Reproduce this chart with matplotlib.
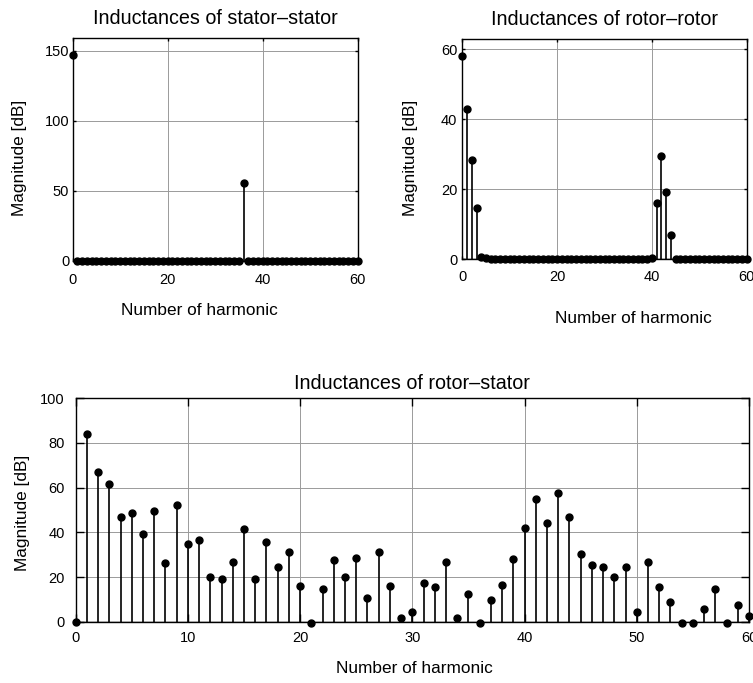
import numpy as np
import matplotlib.pyplot as plt

plt.rcParams['font.family'] = ['Liberation Sans', 'DejaVu Sans']

# harmonic numbers 0..60
harmonics = np.arange(61)

# magnitudes [dB]
stator_stator = [147, 0, 0, 0, 0, 0, 0, 0, 0, 0,
                 0, 0, 0, 0, 0, 0, 0, 0, 0, 0,
                 0, 0, 0, 0, 0, 0, 0, 0, 0, 0,
                 0, 0, 0, 0, 0, 0, 56, 0, 0, 0,
                 0, 0, 0, 0, 0, 0, 0, 0, 0, 0,
                 0, 0, 0, 0, 0, 0, 0, 0, 0, 0,
                 0]

rotor_rotor = [58, 43, 28.5, 14.7, 0.7, 0.5, 0, 0, 0, 0,
               0, 0, 0, 0, 0, 0, 0, 0, 0, 0,
               0, 0, 0, 0, 0, 0, 0, 0, 0, 0,
               0, 0, 0, 0, 0, 0, 0, 0, 0, 0,
               0.5, 16, 29.5, 19.3, 7, 0, 0, 0, 0, 0,
               0, 0, 0, 0, 0, 0, 0, 0, 0, 0,
               0]

rotor_stator = [0, 84, 67, 61.5, 46.7, 48.6, 39.3, 49.5, 26.4, 52.3,
                34.8, 36.7, 20, 19.1, 26.5, 41.3, 19.1, 35.7, 24.7, 31,
                15.9, -0.5, 14.5, 27.7, 20, 28.4, 10.8, 31, 15.9, 1.6,
                4.4, 17.3, 15.4, 26.5, 1.5, 12.6, -0.5, 9.9, 16.4, 27.9,
                41.8, 55.1, 44.4, 57.5, 46.8, 30.2, 25.5, 24.3, 20.1, 24.3,
                4.4, 26.5, 15.4, 8.6, -0.5, -0.5, 5.6, 14.5, -0.5, 7.6,
                2.4]

W, H = 753, 683


def px_axes(fig, left, top, right, bottom):
    # axes box given in pixel coords of the reference
    return fig.add_axes([left / W, (H - bottom) / H, (right - left) / W, (bottom - top) / H])


def stem_plot(ax, y, ms, ticklen, xpad, ypad):
    markerline, stemlines, baseline = ax.stem(harmonics, y, linefmt='k-', markerfmt='ko', basefmt='k-')
    markerline.set_markersize(ms)
    markerline.set_clip_on(False)
    stemlines.set_linewidth(1.2)
    baseline.set_linewidth(1.0)
    ax.grid(True, color='#9a9a9a', linewidth=0.7)
    ax.set_axisbelow(True)
    for s in ax.spines.values():
        s.set_linewidth(1.0)
    ax.tick_params(axis='both', direction='in', top=True, right=True, length=ticklen, width=1.0, labelsize=10.5)
    ax.tick_params(axis='x', pad=xpad)
    ax.tick_params(axis='y', pad=ypad)


fig = plt.figure(figsize=(W / 100, H / 100), dpi=100)

# top left
ax1 = px_axes(fig, 72.7, 38.3, 357.5, 261)
stem_plot(ax1, stator_stator, 5, 2.5, 9, 2.5)
ax1.set_xlim(0, 60)
ax1.set_ylim(0, 159)
ax1.set_xticks([0, 20, 40, 60])
ax1.set_yticks([0, 50, 100, 150])
ax1.set_title('Inductances of stator–stator', fontsize=14.2, pad=10)
ax1.set_xlabel('Number of harmonic', fontsize=12.4)
ax1.set_ylabel('Magnitude [dB]', fontsize=12.4)
ax1.xaxis.set_label_coords(0.4435, -0.19)
ax1.yaxis.set_label_coords(-0.16, 0.4625)

# top right
ax2 = px_axes(fig, 462.3, 39, 746.7, 259.3)
stem_plot(ax2, rotor_rotor, 5, 2.5, 7.5, 3.5)
ax2.set_xlim(0, 60)
ax2.set_ylim(0, 63)
ax2.set_xticks([0, 20, 40, 60])
ax2.set_yticks([0, 20, 40, 60])
ax2.set_title('Inductances of rotor–rotor', fontsize=14.2, pad=10)
ax2.set_xlabel('Number of harmonic', fontsize=12.4)
ax2.set_ylabel('Magnitude [dB]', fontsize=12.4)
ax2.xaxis.set_label_coords(0.600, -0.235)
ax2.yaxis.set_label_coords(-0.156, 0.462)

# bottom
ax3 = px_axes(fig, 75.7, 398.3, 749, 621.7)
stem_plot(ax3, rotor_stator, 5, 5.5, 6.5, 8)
ax3.set_xlim(0, 60)
ax3.set_ylim(0, 100)
ax3.set_xticks([0, 10, 20, 30, 40, 50, 60])
ax3.set_yticks([0, 20, 40, 60, 80, 100])
ax3.set_title('Inductances of rotor–stator', fontsize=14.2, pad=7)
ax3.set_xlabel('Number of harmonic', fontsize=12.4)
ax3.set_ylabel('Magnitude [dB]', fontsize=12.4)
ax3.xaxis.set_label_coords(0.5025, -0.178)
ax3.yaxis.set_label_coords(-0.068, 0.487)

fig.savefig('out.png', dpi=100)
